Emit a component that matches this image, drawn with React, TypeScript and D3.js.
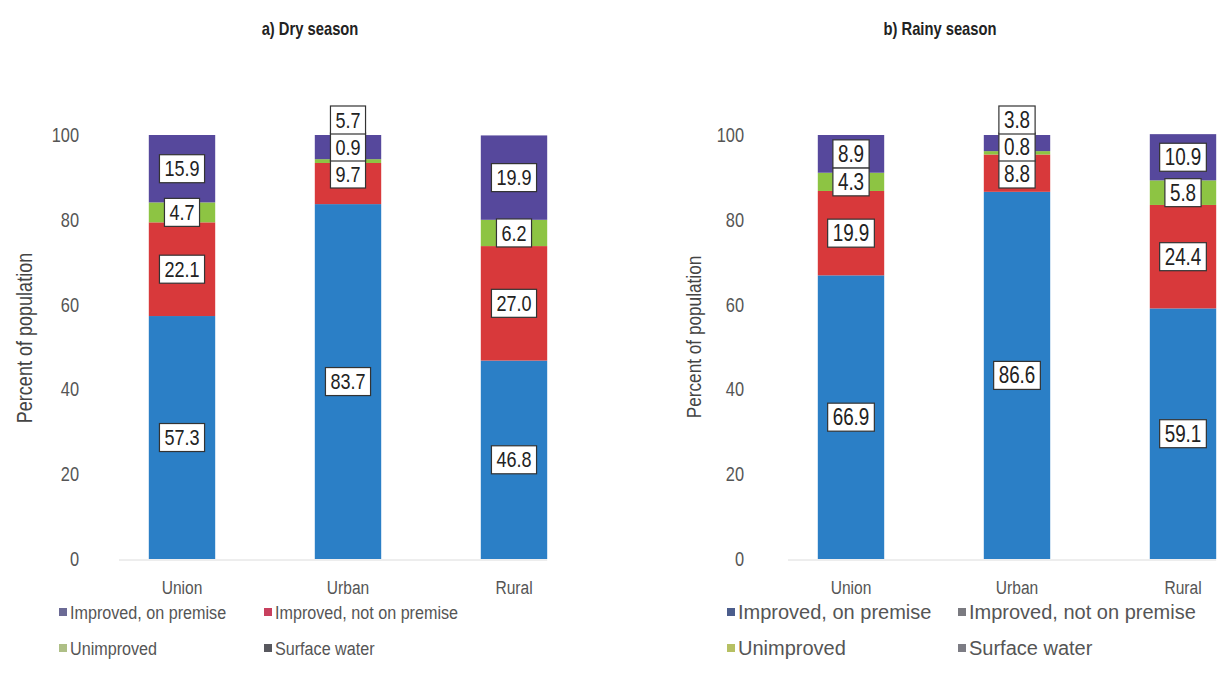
import React from 'react';
import * as d3 from 'd3';

const categories = ['Union', 'Urban', 'Rural'];
const seriesNames = ['Improved, on premise', 'Improved, not on premise', 'Unimproved', 'Surface water'];

// values per category, bottom to top of the stack
const dryOnPremise = [57.3, 83.7, 46.8];
const dryNotOnPremise = [22.1, 9.7, 27.0];
const dryUnimproved = [4.7, 0.9, 6.2];
const drySurface = [15.9, 5.7, 19.9];

const rainyOnPremise = [66.9, 86.6, 59.1];
const rainyNotOnPremise = [19.9, 8.8, 24.4];
const rainyUnimproved = [4.3, 0.8, 5.8];
const rainySurface = [8.9, 3.8, 10.9];

const yTicks = [0, 20, 40, 60, 80, 100];

const barColors = ['#2b7fc6', '#d8393b', '#8dc443', '#56489c'];
const legendColorsA = ['#6b6a95', '#c8405e', '#aebf86', '#58585e'];
const legendColorsB = ['#4b5d8c', '#7a7a80', '#b6c063', '#7c7c84'];

const FONT = '"Liberation Sans", Arial, sans-serif';
const NARROW = 0.82; // squeeze to look like Arial Narrow

// narrow text: translate, optional rotate, then squeeze along the text direction
const NText: React.FC<{
  x: number; y: number; size: number; anchor?: string; fill?: string; bold?: boolean; rotate?: number; sx?: number;
  children: React.ReactNode;
}> = ({ x, y, size, anchor = 'start', fill = '#555', bold, rotate, sx = NARROW, children }) => (
  <text
    transform={`translate(${x},${y})${rotate ? ` rotate(${rotate})` : ''} scale(${sx},1)`}
    textAnchor={anchor}
    dy="0.35em"
    fontSize={size}
    fontWeight={bold ? 'bold' : 'normal'}
    fill={fill}
  >
    {children}
  </text>
);

// Arial-like advance widths for the value labels
const labelWidth = (s: string, size: number) =>
  s.split('').reduce((w, ch) => w + (ch === '.' ? 0.278 : 0.556), 0) * size * NARROW;

type PanelProps = {
  title: string;
  series: number[][];
  xRange: [number, number];
  axisX: number;
  titleX: number;
  yTitleX: number;
  yTitleY: number;
  yTitleSize: number;
  legendX: [number, number];
  legendSize: number;
  legendSx: number;
  legendColors: string[];
  labelSize: number;
};

const Panel: React.FC<PanelProps> = p => {
  const { series, xRange } = p;
  const x = d3.scaleBand<string>().domain(categories).range(xRange).paddingInner(0.6).paddingOuter(0.3);
  const y = d3.scaleLinear().domain([0, 100]).range([559, 135]);

  const rows = categories.map((c, i) => {
    const r: Record<string, number | string> = { cat: c };
    seriesNames.forEach((s, k) => (r[s] = series[k][i]));
    return r;
  });
  const stacked = d3.stack<Record<string, number | string>>().keys(seriesNames)(rows as any);

  const boxH = 28;

  // label positions: segment centres; thin top segments get their labels stacked above the bar
  const labels = categories.map((c, i) => {
    const segs = stacked.map((layer, k) => ({ k, v: series[k][i], y0: y(layer[i][0]), y1: y(layer[i][1]) }));
    const pos = segs.map(s => (s.y0 + s.y1) / 2);
    const top = segs.length - 1;
    if (segs[top].y0 - segs[top].y1 < 26) {
      pos[top] = segs[top].y1 - 15;
      pos[top - 1] = pos[top] + 27;
      pos[top - 2] = pos[top - 1] + 27;
    }
    return segs.map((s, k) => ({ ...s, cy: pos[k] }));
  });

  const cx = (c: string) => (x(c) as number) + x.bandwidth() / 2;

  return (
    <g fontFamily={FONT}>
      <NText x={p.titleX} y={29} size={18} anchor="middle" fill="#222" bold>{p.title}</NText>
      <line x1={xRange[0] + 20} x2={x('Rural')! + x.bandwidth()} y1={560} y2={560} stroke="#dcdcdc" />
      {yTicks.map(t => (
        <NText key={t} x={p.axisX} y={y(t)} size={20} anchor="end">{t}</NText>
      ))}
      <NText x={p.yTitleX} y={p.yTitleY} size={p.yTitleSize} anchor="middle" rotate={-90} fill="#444">
        Percent of population
      </NText>
      {stacked.map((layer, k) => (
        <g key={k} fill={barColors[k]}>
          {layer.map((d, i) => (
            <rect key={i} x={x(categories[i])} y={y(d[1])} width={x.bandwidth()} height={y(d[0]) - y(d[1])} />
          ))}
        </g>
      ))}
      {labels.map((segs, i) =>
        segs.map(s => {
          const txt = s.v.toFixed(1);
          const w = labelWidth(txt, p.labelSize) + 10;
          return (
            <g key={`${i}-${s.k}`}>
              <rect x={cx(categories[i]) - w / 2} y={s.cy - boxH / 2} width={w} height={boxH} fill="#fff" stroke="#333" strokeWidth={1.2} />
              <NText x={cx(categories[i])} y={s.cy} size={p.labelSize} anchor="middle" fill="#222">{txt}</NText>
            </g>
          );
        })
      )}
      {categories.map(c => (
        <NText key={c} x={cx(c)} y={587} size={19} anchor="middle">{c}</NText>
      ))}
      {seriesNames.map((s, k) => {
        const lx = p.legendX[k % 2];
        const ly = k < 2 ? 612 : 648;
        return (
          <g key={s}>
            <rect x={lx} y={ly - 4} width={8} height={8} fill={p.legendColors[k]} />
            <NText x={lx + 11} y={ly} size={p.legendSize} sx={p.legendSx}>{s}</NText>
          </g>
        );
      })}
    </g>
  );
};

export default function App() {
  return (
    <svg width={1227} height={695} style={{ position: 'absolute', left: 0, top: 0, background: '#fff' }}>
      <Panel
        title="a) Dry season"
        series={[dryOnPremise, dryNotOnPremise, dryUnimproved, drySurface]}
        xRange={[99, 597]}
        axisX={79}
        titleX={310}
        yTitleX={24}
        yTitleY={338}
        yTitleSize={22}
        legendX={[59, 264]}
        legendSize={19}
        legendSx={0.85}
        legendColors={legendColorsA}
        labelSize={22}
      />
      <Panel
        title="b) Rainy season"
        series={[rainyOnPremise, rainyNotOnPremise, rainyUnimproved, rainySurface]}
        xRange={[768, 1266]}
        axisX={744}
        titleX={940}
        yTitleX={694}
        yTitleY={337}
        yTitleSize={21}
        legendX={[727, 958]}
        legendSize={20}
        legendSx={1.0}
        legendColors={legendColorsB}
        labelSize={23}
      />
    </svg>
  );
}
